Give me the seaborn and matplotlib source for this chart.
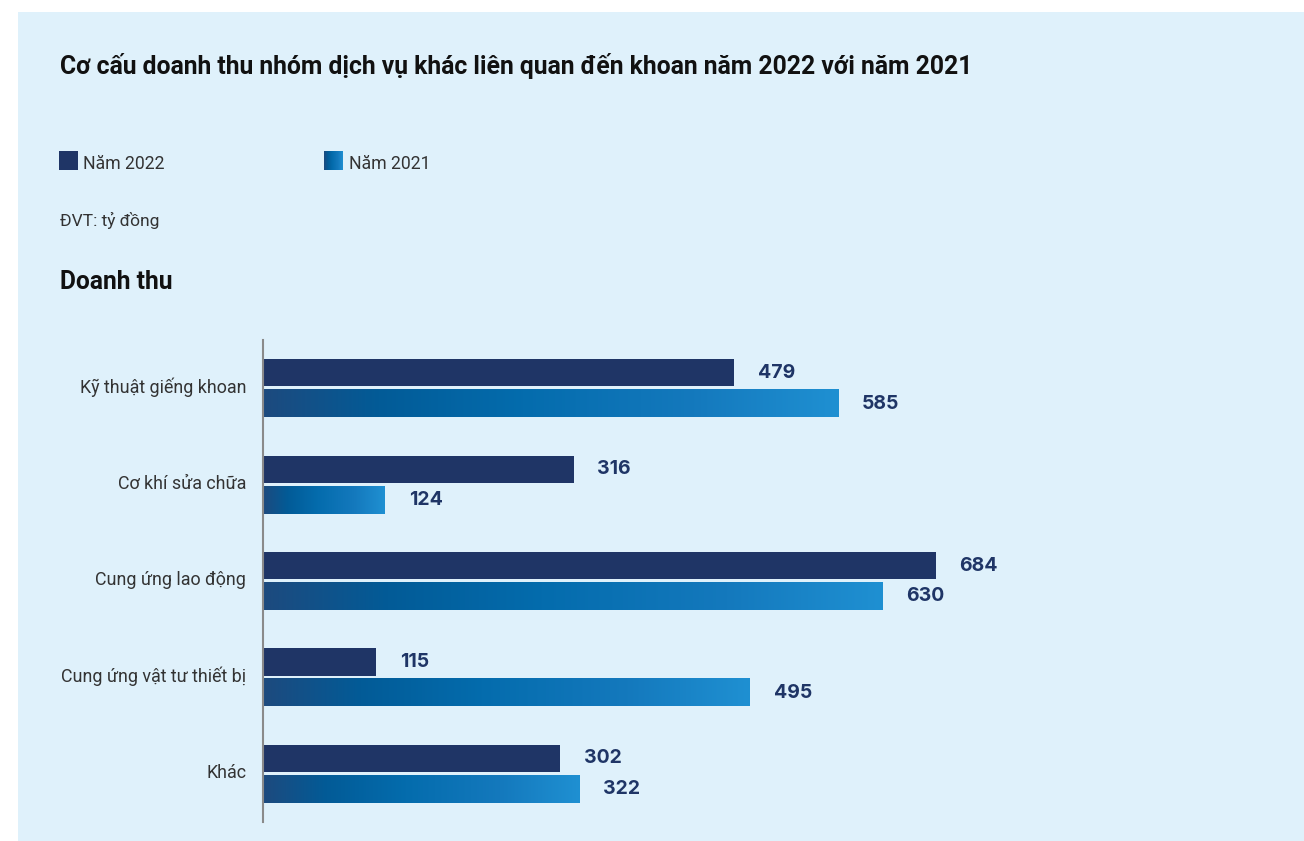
import numpy as np
import pandas as pd
import matplotlib
matplotlib.use("Agg")
import matplotlib.pyplot as plt
import matplotlib.transforms as mtransforms
from matplotlib.colors import LinearSegmentedColormap
from matplotlib.patches import Rectangle
import seaborn as sns

categories = ["Kỹ thuật giếng khoan", "Cơ khí sửa chữa", "Cung ứng lao động",
              "Cung ứng vật tư thiết bị", "Khác"]
values_2022 = [479, 316, 684, 115, 302]
values_2021 = [585, 124, 630, 495, 322]
series_names = ["Năm 2022", "Năm 2021"]

title = "Cơ cấu doanh thu nhóm dịch vụ khác liên quan đến khoan năm 2022 với năm 2021"
unit_text = "ĐVT: tỷ đồng"
section_text = "Doanh thu"

sns.set_theme(style="white")
plt.rcParams["font.family"] = ["Roboto", "DejaVu Sans"]

BG = "#dff1fb"
NAVY = "#1f3566"
TXT = "#333333"
grad_cmap = LinearSegmentedColormap.from_list(
    "g", [(0.0, "#1d4a7e"), (0.2, "#025b97"), (0.45, "#046cad"),
          (0.75, "#1479bd"), (1.0, "#1f90d2")])

df = pd.DataFrame({
    "category": categories * 2,
    "value": values_2022 + values_2021,
    "year": [series_names[0]] * len(categories) + [series_names[1]] * len(categories),
})

W, H = 1304, 841
fig = plt.figure(figsize=(W / 100, H / 100), dpi=100, facecolor="white")
fig.patches.append(Rectangle((18 / W, 0), 1 - 18 / W, 1 - 12 / H,
                             transform=fig.transFigure, facecolor=BG,
                             edgecolor="none", zorder=-10))

ax = fig.add_axes([263 / W, 1 - 822 / H, 1033 / W, 482 / H])
ax.set_facecolor("none")
sns.barplot(data=df, y="category", x="value", hue="year", orient="h",
            palette=[NAVY, "#0a6fb0"], width=0.64, gap=0.12,
            saturation=1, legend=False, linewidth=0, edgecolor="none", ax=ax)

# gradient fill for 2021 bars
grad = np.linspace(0, 1, 256).reshape(1, -1)
for p in ax.containers[1]:
    x0, y0, w, h = p.get_x(), p.get_y(), p.get_width(), p.get_height()
    p.set_facecolor("none")
    ax.imshow(grad, extent=[x0, x0 + w, y0 + h, y0], aspect="auto",
              cmap=grad_cmap, zorder=p.get_zorder(), interpolation="bicubic")

for cont in ax.containers:
    ax.bar_label(cont, labels=[f"{int(v.get_width())}" for v in cont],
                 padding=17, fontsize=14, fontweight="bold", color=NAVY,
                 family=["Inter", "DejaVu Sans"])

ax.set_xlim(0, 1050)
ax.set_ylim(4.5, -0.5)
ax.set_xlabel("")
ax.set_ylabel("")
ax.set_xticks([])
ax.tick_params(axis="y", length=0, pad=12, labelsize=12.9, labelcolor=TXT)
shift = mtransforms.ScaledTranslation(0, 3 / 100, fig.dpi_scale_trans)
for lab in ax.get_yticklabels():
    lab.set_transform(lab.get_transform() + shift)
for s in ["top", "right", "bottom"]:
    ax.spines[s].set_visible(False)
ax.spines["left"].set_color("#8a8a8a")
ax.spines["left"].set_linewidth(1.5)

# title and texts
fig.text(60 / W, 1 - 66 / H, title, fontsize=17.8, fontweight="bold",
         color="#111111", va="center", ha="left")
fig.text(60 / W, 1 - 220 / H, unit_text, fontsize=12.5, color=TXT,
         va="center", ha="left")
fig.text(60 / W, 1 - 282 / H, section_text, fontsize=17.7, fontweight="bold",
         color="#111111", va="center", ha="left")

# legend
leg_y = 151
fig.patches.append(Rectangle((59 / W, 1 - (leg_y + 19) / H), 19 / W, 19 / H,
                             transform=fig.transFigure, facecolor=NAVY,
                             edgecolor="none"))
fig.text(83 / W, 1 - 164 / H, series_names[0], fontsize=12.7, color=TXT,
         va="center", ha="left")
lax = fig.add_axes([324 / W, 1 - (leg_y + 19) / H, 19 / W, 19 / H])
lax.imshow(grad, aspect="auto", cmap=grad_cmap, extent=[0, 1, 0, 1])
lax.axis("off")
fig.text(349 / W, 1 - 164 / H, series_names[1], fontsize=12.7, color=TXT,
         va="center", ha="left")

fig.savefig("out.png", dpi=100, facecolor="white")
